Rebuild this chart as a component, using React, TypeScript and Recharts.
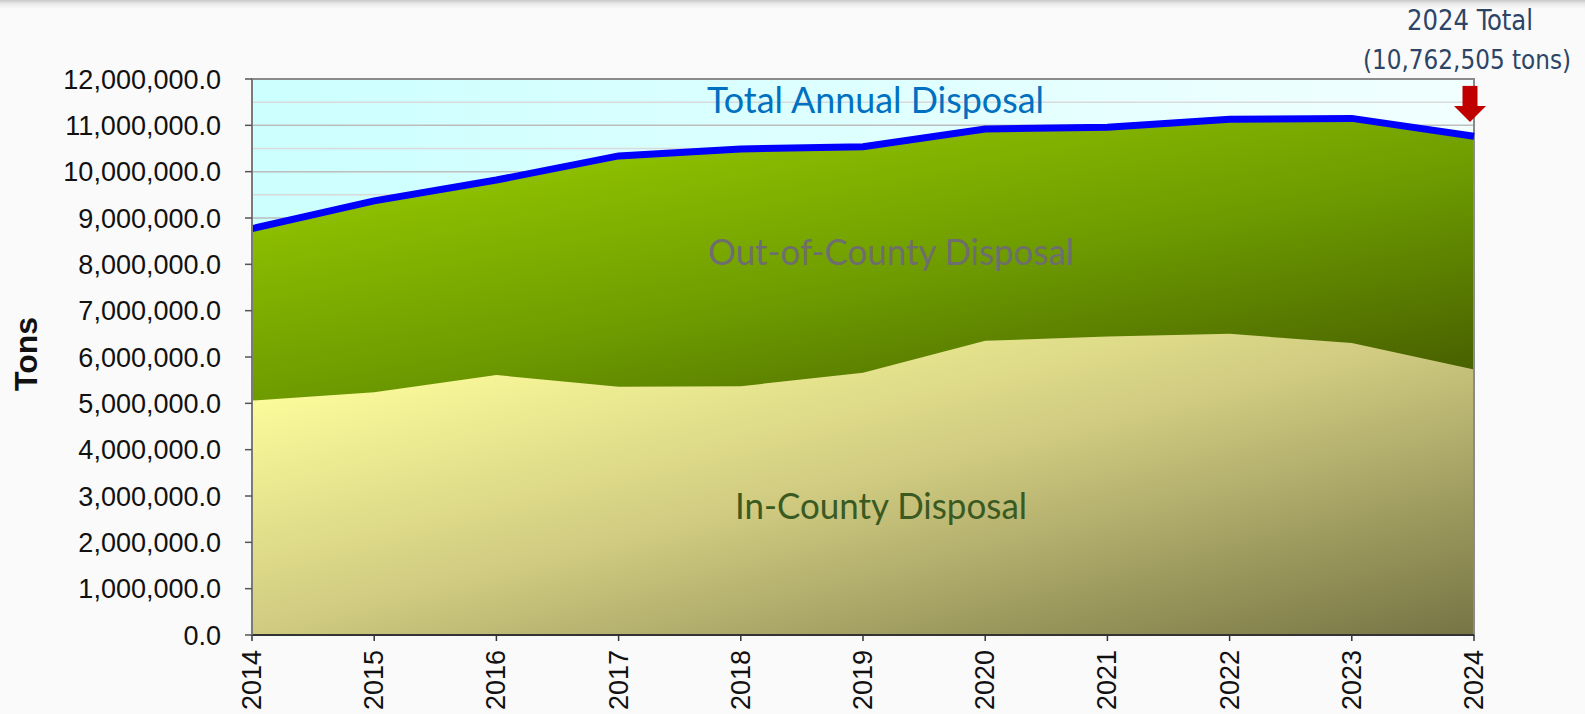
import React from 'react';
import {
  ComposedChart,
  Area,
  Line,
  XAxis,
  YAxis,
  CartesianGrid,
  ReferenceDot,
  ReferenceArea,
} from 'recharts';

// ---- data ----
const years = ['2014', '2015', '2016', '2017', '2018', '2019', '2020', '2021', '2022', '2023', '2024'];
const totalTons = [8770000, 9370000, 9820000, 10340000, 10490000, 10540000, 10920000, 10960000, 11130000, 11150000, 10762505];
const inCountyTons = [5060000, 5240000, 5610000, 5360000, 5370000, 5660000, 6350000, 6440000, 6500000, 6300000, 5730000];
const yTicks = [0, 1000000, 2000000, 3000000, 4000000, 5000000, 6000000, 7000000, 8000000, 9000000, 10000000, 11000000, 12000000];
const yMinorTicks = [500000, 1500000, 2500000, 3500000, 4500000, 5500000, 6500000, 7500000, 8500000, 9500000, 10500000, 11500000];
const arrowYear = '2024';
const arrowValue = 11700000;

const data = years.map((y, i) => ({ year: y, total: totalTons[i], inCounty: inCountyTons[i] }));

const W = 1585;
const H = 714;
const sans = '"Liberation Sans", Arial, Helvetica, sans-serif';
const humanist = 'Lato, "Open Sans", "Noto Sans", sans-serif';
const narrow = '"Liberation Sans Narrow", "DejaVu Sans Condensed", "Roboto", sans-serif';

const fmt = (v: number) =>
  v.toLocaleString('en-US', { minimumFractionDigits: 1, maximumFractionDigits: 1 });

const XTick = (props: any) => {
  const { x, y, payload } = props;
  return (
    <g transform={`translate(${x},${y}) rotate(-90)`}>
      <text x={-7} y={0} textAnchor="end" dominantBaseline="central" fontSize={27} fontFamily={sans} fill="#111">
        {payload.value}
      </text>
    </g>
  );
};

const Arrow = (props: any) => {
  const { cx, cy } = props;
  const ax = cx - 4;
  return (
    <g>
      <rect x={ax - 7.5} y={cy - 7} width={15} height={21} fill="#c00000" />
      <polygon points={`${ax - 16},${cy + 13} ${ax + 16},${cy + 13} ${ax},${cy + 29}`} fill="#c00000" />
    </g>
  );
};

const TonsLabel = (props: any) => {
  const vb = props.viewBox || {};
  const cx = 26;
  const cy = (vb.y || 0) + (vb.height || 0) / 2 - 3;
  return (
    <text
      x={cx}
      y={cy}
      transform={`rotate(-90, ${cx}, ${cy})`}
      textAnchor="middle"
      dominantBaseline="central"
      fontSize={32}
      fontWeight="bold"
      fontFamily={sans}
      fill="#111"
    >
      Tons
    </text>
  );
};

export default function App() {
  return (
    <div style={{ position: 'absolute', left: 0, top: 0, width: W, height: H, background: '#fafafa', overflow: 'hidden' }}>
      <div
        style={{
          position: 'absolute',
          left: 0,
          top: 0,
          width: W,
          height: 9,
          background: 'linear-gradient(to bottom, #c8c8c8 0%, #e8e8e8 40%, #fafafa 100%)',
        }}
      />
      <ComposedChart
        width={W}
        height={H}
        data={data}
        margin={{ top: 79, right: 111, bottom: 0, left: 0 }}
        style={{ position: 'absolute', left: 0, top: 0 }}
      >
        <defs>
          <linearGradient id="sky" x1="0" y1="0" x2="1" y2="0">
            <stop offset="0%" stopColor="#ccffff" />
            <stop offset="100%" stopColor="#f2ffff" />
          </linearGradient>
          <linearGradient id="outGreen" x1="0" y1="0" x2="0.45" y2="1">
            <stop offset="0%" stopColor="rgb(160,212,0)" />
            <stop offset="45%" stopColor="rgb(110,156,0)" />
            <stop offset="76%" stopColor="rgb(74,100,0)" />
            <stop offset="100%" stopColor="rgb(60,80,0)" />
          </linearGradient>
          <linearGradient id="inYellow" x1="0" y1="0" x2="1" y2="1">
            <stop offset="0%" stopColor="#ffff9e" />
            <stop offset="12%" stopColor="#fafa9a" />
            <stop offset="50%" stopColor="#cfca80" />
            <stop offset="100%" stopColor="#767444" />
          </linearGradient>
        </defs>
        <CartesianGrid vertical={false} fill="url(#sky)" horizontalValues={yMinorTicks} stroke="#dadada" strokeWidth={1.5} />
        <CartesianGrid vertical={false} stroke="#bdbdbd" strokeWidth={1.5} />
        <XAxis
          dataKey="year"
          scale="point"
          padding={{ left: 0, right: 0 }}
          height={79}
          interval={0}
          tick={<XTick />}
          tickSize={6}
          axisLine={{ stroke: '#333', strokeWidth: 2 }}
          tickLine={{ stroke: '#333', strokeWidth: 1.5 }}
        />
        <YAxis
          width={252}
          domain={[0, 12000000]}
          ticks={yTicks}
          type="number"
          interval={0}
          tickFormatter={fmt}
          tickSize={7}
          tickMargin={24}
          tick={{ fontSize: 27, fontFamily: sans, fill: '#111' }}
          axisLine={{ stroke: '#7a7a7a', strokeWidth: 2 }}
          tickLine={{ stroke: '#555', strokeWidth: 1.5 }}
          label={<TonsLabel />}
        />
        <Area
          type="linear"
          dataKey="total"
          stroke="none"
          fill="url(#outGreen)"
          fillOpacity={1}
          isAnimationActive={false}
        />
        <Area
          type="linear"
          dataKey="inCounty"
          stroke="none"
          fill="url(#inYellow)"
          fillOpacity={1}
          isAnimationActive={false}
        />
        <ReferenceArea x1="2014" x2="2024" y1={0} y2={12000000} fill="none" stroke="#8a8a8a" strokeWidth={2} ifOverflow="visible" />
        <Line
          type="linear"
          dataKey="total"
          stroke="#0000ff"
          strokeWidth={7}
          dot={false}
          activeDot={false}
          isAnimationActive={false}
        />
        <ReferenceDot x={arrowYear} y={arrowValue} r={0} shape={<Arrow />} ifOverflow="visible" />
      </ComposedChart>
      <svg width={W} height={H} style={{ position: 'absolute', left: 0, top: 0, pointerEvents: 'none' }}>
        <text x={707} y={113} textLength={337} lengthAdjust="spacingAndGlyphs" fontFamily={humanist} fontSize={36} fill="#0070c0">
          Total Annual Disposal
        </text>
        <text x={708} y={265} textLength={366} lengthAdjust="spacingAndGlyphs" fontFamily={humanist} fontSize={37} fill="#6e6e6e">
          Out-of-County Disposal
        </text>
        <text x={735} y={519} textLength={292} lengthAdjust="spacingAndGlyphs" fontFamily={humanist} fontSize={37} fill="#3b5a22">
          In-County Disposal
        </text>
        <text x={1407} y={30} textLength={126} lengthAdjust="spacingAndGlyphs" fontFamily={narrow} fontSize={28} fill="#2c4566">
          2024 Total
        </text>
        <text x={1363} y={69} textLength={208} lengthAdjust="spacingAndGlyphs" fontFamily={narrow} fontSize={27} fill="#2c4566">
          (10,762,505 tons)
        </text>
      </svg>
    </div>
  );
}
